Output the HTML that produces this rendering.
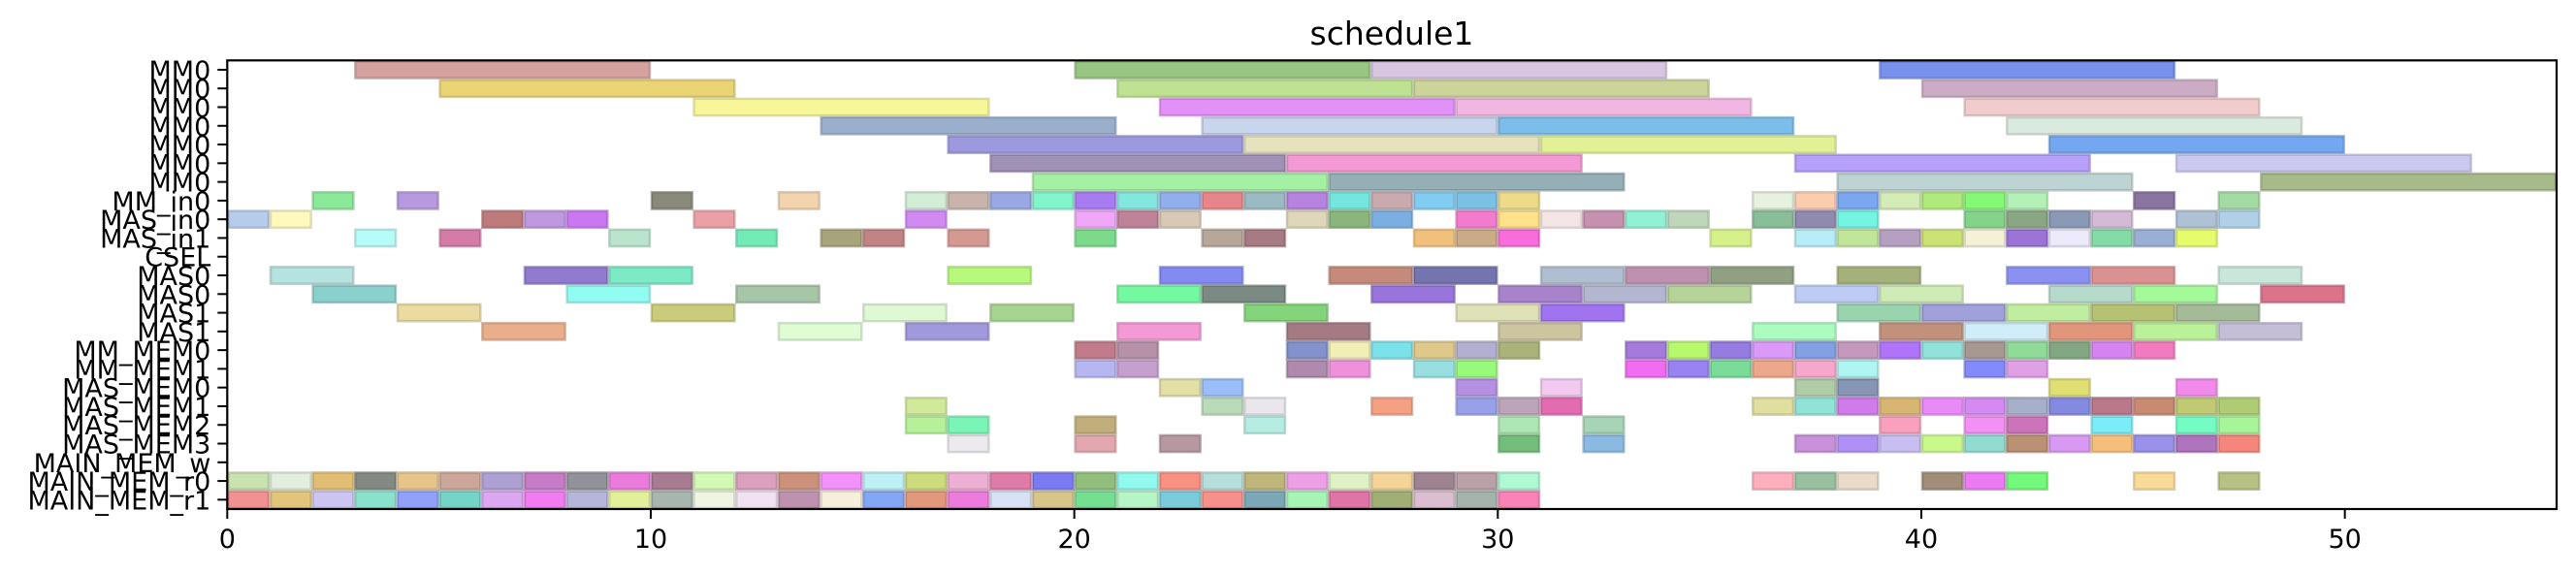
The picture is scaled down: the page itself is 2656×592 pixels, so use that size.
<!DOCTYPE html>
<html><head><meta charset="utf-8"><title>schedule1</title>
<style>html,body{margin:0;padding:0;background:#fff}svg{display:block}text{font-family:"DejaVu Sans","Liberation Sans",sans-serif;fill:#000}</style>
</head><body>
<svg id="chart" width="2656" height="592" viewBox="0 0 2656 592" xmlns="http://www.w3.org/2000/svg">
<text x="1435" y="46" font-size="33" text-anchor="middle">schedule1</text>
<g id="bars"></g>
<g id="axes"></g>
</svg>
<script>
const rowLabels = ["MM0","MM0","MM0","MM0","MM0","MM0","MM0","MM_in0","MAS_in0","MAS_in1","CSEL","MAS0","MAS0","MAS1","MAS1","MM_MEM0","MM_MEM1","MAS_MEM0","MAS_MEM1","MAS_MEM2","MAS_MEM3","MAIN_MEM_w","MAIN_MEM_r0","MAIN_MEM_r1"];
const rowDur = [7,7,7,7,7,7,7,1,1,1,1,2,2,2,2,1,1,1,1,1,1,1,1,1];
const rowStarts = [
[3,20,27,39],
[5,21,28,40],
[11,22,29,41],
[14,23,30,42],
[17,24,31,43],
[18,25,37,46],
[19,26,38,48],
[2,4,10,13,16,17,18,19,20,21,22,23,24,25,26,27,28,29,30,36,37,38,39,40,41,42,45,47],
[0,1,6,7,8,11,16,20,21,22,25,26,27,29,30,31,32,33,34,36,37,38,41,42,43,44,46,47],
[3,5,9,12,14,15,17,20,23,24,28,29,30,35,37,38,39,40,41,42,43,44,45,46],
[],
[1,7,9,17,22,26,28,31,33,35,38,42,44,47],
[2,8,12,21,23,27,30,32,34,37,39,43,45,48],
[4,10,15,18,24,29,31,38,40,42,44,46],
[6,13,16,21,25,30,36,39,41,43,45,47],
[20,21,25,26,27,28,29,30,33,34,35,36,37,38,39,40,41,42,43,44,45],
[20,21,25,26,28,29,33,34,35,36,37,38,41,42],
[22,23,29,31,37,38,43,46],
[16,23,24,27,29,30,31,36,37,38,39,40,41,42,43,44,45,46,47],
[16,17,20,24,30,32,39,41,42,44,46,47],
[17,20,22,30,32,37,38,39,40,41,42,43,44,45,46,47],
[],
[0,1,2,3,4,5,6,7,8,9,10,11,12,13,14,15,16,17,18,19,20,21,22,23,24,25,26,27,28,29,30,36,37,38,40,41,42,45,47],
[0,1,2,3,4,5,6,7,8,9,10,11,12,13,14,15,16,17,18,19,20,21,22,23,24,25,26,27,28,29,30]
];
const rowColors = [
["#d29a98","#90c078","#d4c0e0","#6c88ec"],
["#e8d068","#b8e088","#c8d090","#c8a4c0"],
["#f6f690","#e088f8","#f0b0e0","#f0c8c8"],
["#90a8c8","#c4d0ec","#70b8e8","#d8e8dc"],
["#9490dc","#e4e0b8","#e0f08c","#68a0f0"],
["#9888b0","#f290d0","#b098f8","#c8c4f0"],
["#9cf09c","#8ca8b0","#b8d0d0","#a0b480"],
["#80e890","#b090dc","#808070","#f2d0a8","#d0ecd4","#c4aea4","#90a0e0","#78f4c8","#a070f0","#78e4dc","#88a8e8","#e47c80","#94b4bc","#b078dc","#68e4dc","#c4a4a8","#78c8f0","#70bce4","#ecd880","#e4f0dc","#fcc8a8","#70a0f0","#d0eab0","#a8e870","#78f868","#acf0b0","#806898","#9cd89c"],
["#b0c8e8","#fff8b8","#b87070","#b890dc","#c46cf0","#e8989c","#cc80f0","#f0a0f8","#b87890","#d4c4b0","#dcd4b4","#80b070","#70a8e0","#f070c8","#ffe080","#f4e4e4","#c088a8","#88f0d0","#b8d4b4","#80b890","#8880a8","#68f4e0","#78d080","#80a078","#8090b0","#d0b4d4","#a8bcd0","#a8cce4"],
["#b0fcf8","#d070a0","#b4e2c8","#68e8b0","#a09c70","#bc7878","#d09088","#70d880","#b0a090","#a07078","#f0bc70","#c4a47c","#f860d8","#d4f080","#b0ecf8","#bce490","#b098bc","#c8e068","#f4f0d4","#9468d4","#ece8fc","#78d8a0","#90a8d0","#e4fc60"],
[],
["#b0e0dc","#8870cc","#70e8c0","#b0f870","#7880f0","#c08070","#6868a8","#a8b8cc","#b888a8","#889878","#9caa70","#8088f0","#d88888","#c4e4d8"],
["#80ccc8","#88fcf0","#a0c0a0","#68f898","#708078","#9068d8","#a078c8","#acb0cc","#b0d090","#b8c8f4","#cceab0","#b0d8c8","#9cf890","#d86880"],
["#e8d898","#c4c870","#dcf8d0","#a0d088","#78d070","#dcdeb0","#9868f0","#90d0a8","#9898d8","#bcec98","#b0bc68","#9cb490"],
["#e8a880","#dcfcd0","#9890d8","#f490d0","#9c7078","#c8c098","#a4fcb8","#bc8870","#ccecf8","#e08c70","#b4f090","#c0b8d4"],
["#bc7080","#b088a0","#7888c8","#f0eeb0","#70e0e8","#dcc480","#aca8cc","#a4ac70","#9c70d8","#b0f860","#8c70e0","#d890f8","#7898e0","#c090b8","#a868f8","#88e0d8","#a09088","#88d890","#78a078","#d078f0","#f070b8"],
["#b0b0f0","#c098c8","#a880a8","#ec88d8","#90dce0","#90f870","#f060f0","#9078f0","#70d890","#eca080","#f4a0c8","#a8f4f0","#7880f8","#dc98e4"],
["#e0dca0","#90b8f8","#b088e0","#f0c4f0","#a8c8a0","#7c8cac","#dcdc68","#f080e8"],
["#cce890","#b4d8b4","#e8e4ec","#f49878","#9098e8","#b89cb4","#e060a8","#dcdc98","#88e0d4","#cc70e8","#d4b068","#e880f8","#d080f0","#a0a8c4","#7880dc","#b46c80","#c48068","#bcc468","#a8c868"],
["#b0f090","#70f4b0","#bca870","#b0ece0","#a8e4b0","#a0d0b0","#f898b8","#f088f4","#c868b4","#70ecf8","#68fcc0","#a0f490"],
["#ece8ee","#e0a0a8","#b09098","#68b870","#80b4e0","#c488d8","#a888f4","#c4b8f0","#c4f880","#88d8cc","#b48868","#d490f0","#f4b870","#9088e8","#a868b8","#f47c70"],
[],
["#c4e0a8","#e0eedc","#e0b868","#788078","#e4c080","#c8a090","#a898d0","#c070c0","#888890","#e870d8","#a07088","#d0f8b0","#d898b8","#c88870","#f088f8","#b8f0f4","#c8d870","#eca8d0","#dc70a0","#7070f0","#88b870","#88f8ec","#f88878","#b0dcd8","#b8b070","#ec98e4","#dcf0c0","#f4d090","#987888","#b498a0","#a8f8d0","#ffa8b8","#90bc98","#e8d8c4","#988470","#e870f0","#68f870","#f8d890","#b0bc78"],
["#f08888","#e0c070","#c8c0f0","#80e0c8","#8898f8","#68d0c0","#d8a0f0","#f070f0","#b0b0d8","#e0f090","#a0b0a8","#eef4e0","#f0e0f0","#b888a8","#f4eed8","#78a0f4","#e09070","#ec70d8","#d4e0f4","#d4c080","#68dc88","#b0f4c0","#70c8d8","#f48880","#70a0b0","#a0f4b0","#dc68a0","#98a868","#d8b8cc","#9caca4","#f878b0"]
];
const xTicks = [0,10,20,30,40,50];
const xMin = 0, xMax = 55;

const NS = "http://www.w3.org/2000/svg";
const L = 234.3, R = 2636, T = 62.3, B = 525;
const rowH = (B - T) / rowLabels.length;
function X(t){ return L + (t - xMin) / (xMax - xMin) * (R - L); }
function rowTop(i){ return T + i * rowH; }
function darken(h){
  const n = parseInt(h.slice(1),16);
  const r=Math.round(((n>>16)&255)*0.78), g=Math.round(((n>>8)&255)*0.78), b=Math.round((n&255)*0.78);
  return "rgb("+r+","+g+","+b+")";
}
function mk(tag, attrs, parent){
  const e = document.createElementNS(NS, tag);
  for (const k in attrs) e.setAttribute(k, attrs[k]);
  parent.appendChild(e);
  return e;
}
const gb = document.getElementById("bars");
for (let i = 0; i < rowLabels.length; i++) {
  const starts = rowStarts[i];
  for (let j = 0; j < starts.length; j++) {
    const s = starts[j], e = s + rowDur[i];
    const c = rowColors[i][j] || "#cccccc";
    const r = mk("rect", {x: X(s)+1, y: rowTop(i)+1, width: X(e)-X(s)-2, height: rowH-2, fill: c, "fill-opacity": 0.92, stroke: darken(c), "stroke-opacity": 0.55, "stroke-width": 2.5}, gb);
    
    
  }
}
const ga = document.getElementById("axes");
const frame = mk("rect", {x: L, y: T, width: R-L, height: B-T, fill: "none", stroke: "#000", "stroke-width": 2.2}, ga);


for (let i = 0; i < rowLabels.length; i++) {
  const cy = rowTop(i) + rowH/2;
  const tk = mk("line", {x1: L-10, x2: L, y1: cy, y2: cy, stroke: "#000", "stroke-width": 2}, ga);
  
  
  const tx = mk("text", {x: L-17, y: cy+10, "font-size": 27, "text-anchor": "end"}, ga);
  tx.textContent = rowLabels[i];
  
  
}
for (const v of xTicks) {
  const x = X(v);
  const tk = mk("line", {x1: x, x2: x, y1: B, y2: B+10, stroke: "#000", "stroke-width": 2}, ga);
  
  
  const tx = mk("text", {x: x, y: B+40, "font-size": 27, "text-anchor": "middle"}, ga);
  tx.textContent = String(v);
  
  
}
</script>
</body></html>
